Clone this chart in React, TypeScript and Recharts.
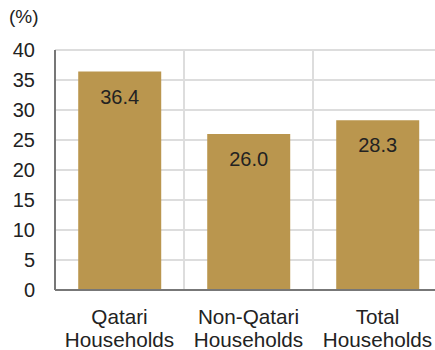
import { BarChart, Bar, XAxis, YAxis, CartesianGrid, LabelList } from 'recharts';

const categories = ['Qatari Households', 'Non-Qatari Households', 'Total Households'];
const shares = [36.4, 26.0, 28.3];
const yTicks = [0, 5, 10, 15, 20, 25, 30, 35, 40];

const data = categories.map((name, i) => ({ name, value: shares[i] }));

const FONT = '"Liberation Sans", Arial, sans-serif';
const BAR = '#BA964E';

function CategoryTick({ x, y, payload }: any) {
  const words = String(payload.value).split(' ');
  return (
    <text x={x} y={y} textAnchor="middle" fontFamily={FONT} fontSize={20.7} fill="#222">
      {words.map((w, i) => (
        <tspan key={i} x={x} dy={i === 0 ? 32 : 23}>
          {w}
        </tspan>
      ))}
    </text>
  );
}

function ValueLabel({ x, y, width, value }: any) {
  return (
    <text
      x={x + width / 2}
      y={y + 32}
      textAnchor="middle"
      fontFamily={FONT}
      fontSize={20}
      fill="#222"
    >
      {Number(value).toFixed(1)}
    </text>
  );
}

export default function App() {
  return (
    <div
      style={{
        position: 'absolute',
        left: 0,
        top: 0,
        width: 435,
        height: 350,
        overflow: 'hidden',
        background: '#fff',
      }}
    >
      <div
        style={{
          position: 'absolute',
          left: 9,
          top: 6,
          fontFamily: FONT,
          fontSize: 19,
          color: '#222',
        }}
      >
        (%)
      </div>
      <BarChart
        width={442}
        height={350}
        data={data}
        margin={{ top: 50, right: 0, bottom: 0, left: 0 }}
        barCategoryGap="18%"
      >
        <CartesianGrid
          stroke="#ddd"
          strokeWidth={2}
          verticalCoordinatesGenerator={({ offset }: any) =>
            categories.map((_, i) => offset.left + ((i + 1) * offset.width) / categories.length)
          }
        />
        <YAxis
          domain={[0, 40]}
          ticks={yTicks}
          width={55}
          tickLine={false}
          tickSize={0}
          tickMargin={20}
          axisLine={{ stroke: '#777', strokeWidth: 2 }}
          tick={{ fontFamily: FONT, fontSize: 20, fill: '#222' }}
          interval={0}
        />
        <XAxis
          dataKey="name"
          height={60}
          tickLine={false}
          tickSize={0}
          axisLine={{ stroke: '#777', strokeWidth: 2 }}
          tick={<CategoryTick />}
          interval={0}
        />
        <Bar dataKey="value" fill={BAR} isAnimationActive={false}>
          <LabelList dataKey="value" content={<ValueLabel />} />
        </Bar>
      </BarChart>
    </div>
  );
}
